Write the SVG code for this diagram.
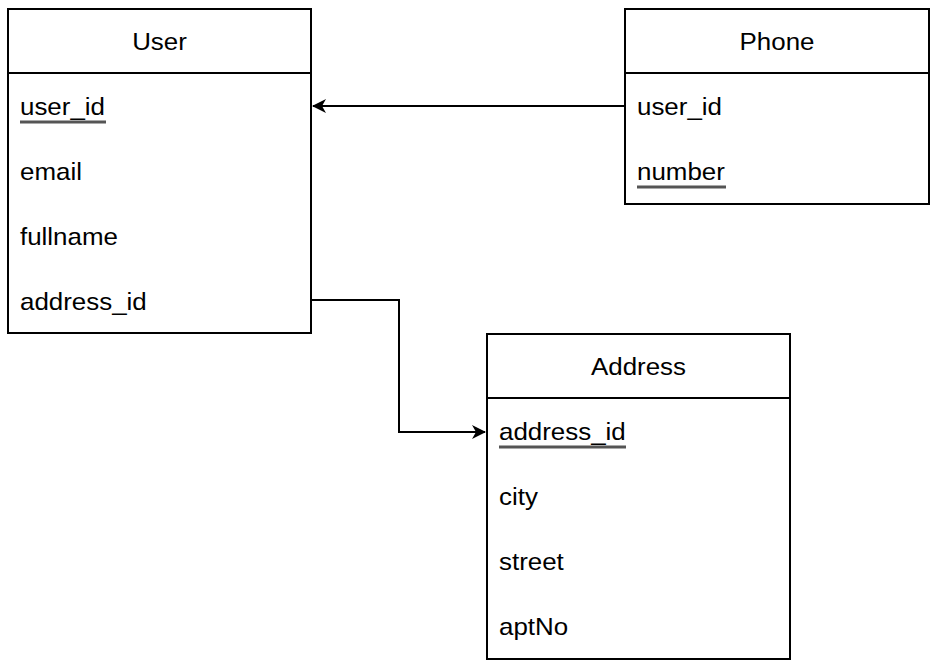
<svg xmlns="http://www.w3.org/2000/svg" width="939" height="672" viewBox="0 0 939 672">
<style>
.box{fill:#fff;stroke:#000;stroke-width:2}
.t{font-family:"Liberation Sans",Arial,sans-serif;font-size:24px;fill:#000}
.h{text-anchor:middle}
.u{stroke:#555;stroke-width:3}
.c{fill:none;stroke:#000;stroke-width:2}
</style>
<defs>
<marker id="arr" viewBox="0 0 14 14" refX="13" refY="7" markerWidth="14" markerHeight="14" markerUnits="userSpaceOnUse" orient="auto">
<path d="M0,0 L14,7 L0,14 L4,7 Z" fill="#000"/>
</marker>
</defs>
<g id="connectors">
<path class="c" d="M625,106 L313,106" marker-end="url(#arr)"/>
<path class="c" d="M311,300 L399,300 L399,432 L485,432" marker-end="url(#arr)"/>
</g>
<g id="User">
<rect class="box" x="8" y="9" width="303" height="324"/>
<line class="c" x1="8" y1="73" x2="311" y2="73"/>
<text class="t h" transform="translate(159.5,50) scale(1.08,1)">User</text>
<text class="t" transform="translate(20,115) scale(1.08,1)">user_id</text>
<line class="u" x1="20" y1="122" x2="106" y2="122"/>
<text class="t" transform="translate(20,180) scale(1.08,1)">email</text>
<text class="t" transform="translate(20,245) scale(1.08,1)">fullname</text>
<text class="t" transform="translate(20,310) scale(1.08,1)">address_id</text>
</g>
<g id="Phone">
<rect class="box" x="625" y="9" width="304" height="195"/>
<line class="c" x1="625" y1="73" x2="929" y2="73"/>
<text class="t h" transform="translate(777,50) scale(1.08,1)">Phone</text>
<text class="t" transform="translate(637,115) scale(1.08,1)">user_id</text>
<text class="t" transform="translate(637,180) scale(1.08,1)">number</text>
<line class="u" x1="637" y1="187" x2="726" y2="187"/>
</g>
<g id="Address">
<rect class="box" x="487" y="334" width="303" height="325"/>
<line class="c" x1="487" y1="398" x2="790" y2="398"/>
<text class="t h" transform="translate(638.5,375) scale(1.08,1)">Address</text>
<text class="t" transform="translate(499,440) scale(1.08,1)">address_id</text>
<line class="u" x1="499" y1="447" x2="626" y2="447"/>
<text class="t" transform="translate(499,505) scale(1.08,1)">city</text>
<text class="t" transform="translate(499,570) scale(1.08,1)">street</text>
<text class="t" transform="translate(499,635) scale(1.08,1)">aptNo</text>
</g>
</svg>
